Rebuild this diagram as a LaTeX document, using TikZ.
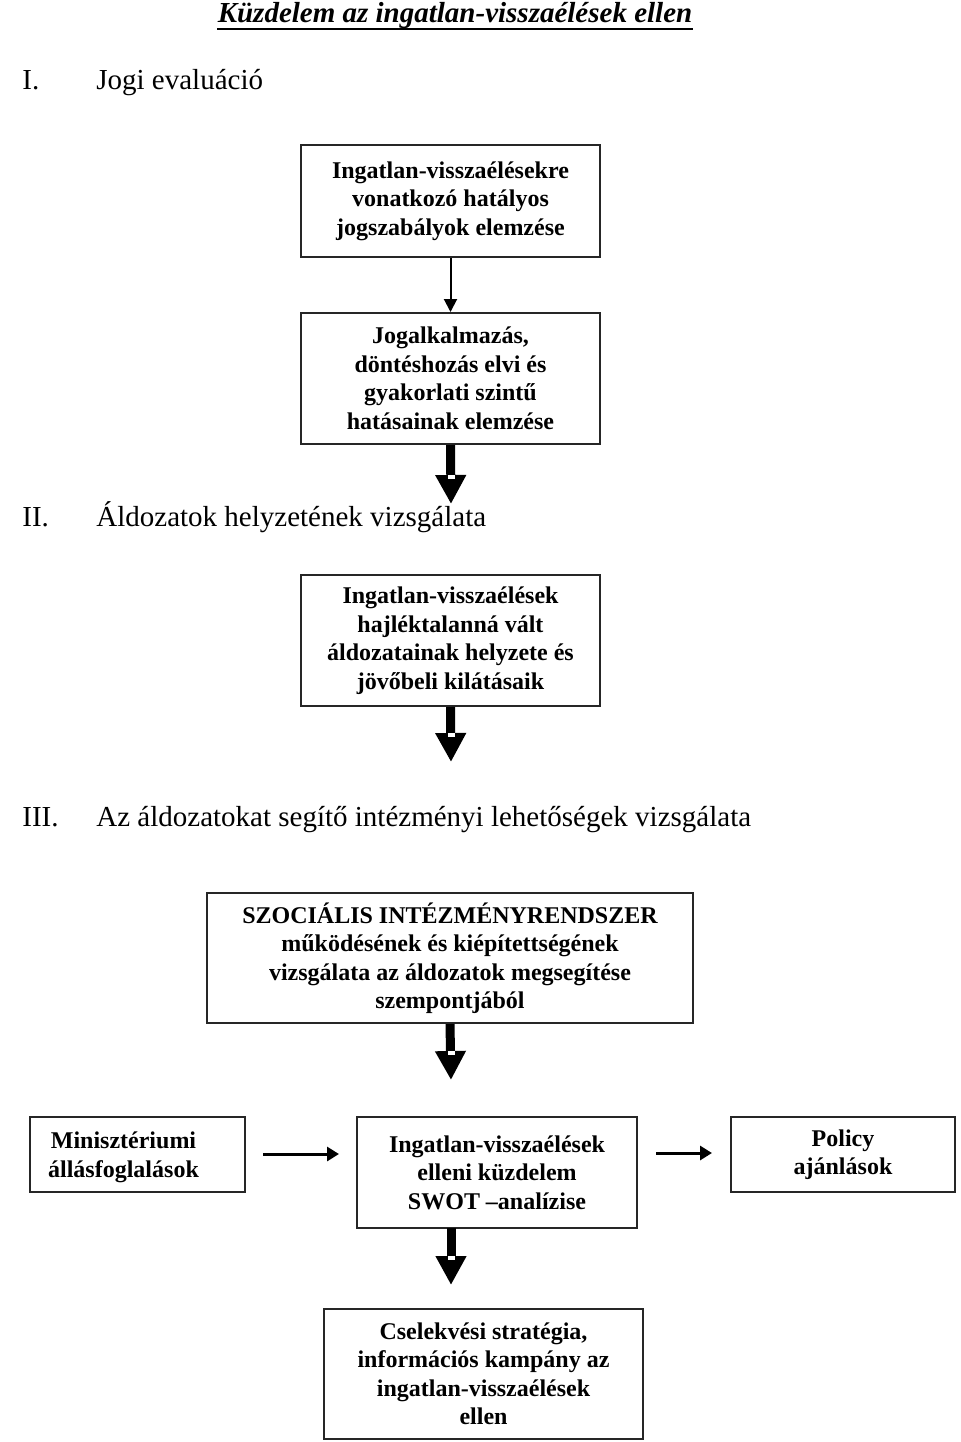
\documentclass[tikz,border=0pt]{standalone}
\usepackage{fontspec}
\setmainfont{Liberation Serif}
\usetikzlibrary{arrows.meta,calc}

\begin{document}
\begin{tikzpicture}[x=0.5pt, y=-0.5pt]
    % Styles
    \tikzstyle{block} = [rectangle, draw=black!85, line width=1pt, inner sep=0pt, align=center, font=\bfseries\fontsize{12}{14.25}\selectfont]
    \tikzstyle{heading} = [anchor=base west, inner sep=0pt, font=\fontsize{14.5}{17}\selectfont]
    \tikzstyle{arrow} = [line width=1pt, -{Triangle[length=6.5pt, width=6.5pt]}]
    \tikzstyle{sidearrow} = [line width=1.5pt, -{Triangle[length=6pt, width=7pt]}]
    \tikzstyle{bigarrow} = [line width=4.5pt, -{Triangle[length=14.5pt, width=14.5pt]}]
    \tikzstyle{notch} = [fill=white]

    \useasboundingbox (0,0) rectangle (960,1442);

    % Title
    \node [anchor=base, inner sep=0pt, font=\bfseries\itshape\fontsize{14.5}{17}\selectfont] (title) at (455,22) {Küzdelem az ingatlan-visszaélések ellen};
    \draw [line width=1pt] ($(title.base west)+(0,7)$) -- ($(title.base east)+(0,7)$);

    % Headings
    \node [heading] (num1) at (22,89) {I.};
    \node [heading] (head1) at (96,89) {Jogi evaluáció};
    \node [heading] (num2) at (22,526) {II.};
    \node [heading] (head2) at (96,526) {Áldozatok helyzetének vizsgálata};
    \node [heading] (num3) at (22,826) {III.};
    \node [heading] (head3) at (96,826) {Az áldozatokat segítő intézményi lehetőségek vizsgálata};

    % Nodes
    \node [block, minimum width=149.5pt, minimum height=56pt] (rules) at (450.5,201) {Ingatlan-visszaélésekre\\vonatkozó hatályos\\jogszabályok elemzése};
    \node [block, minimum width=149.5pt, minimum height=65.5pt] (impact) at (450.5,378.5) {Jogalkalmazás,\\döntéshozás elvi és\\gyakorlati szintű\\hatásainak elemzése};
    \node [block, minimum width=149.5pt, minimum height=65.5pt] (victims) at (450.5,640.5) {Ingatlan-visszaélések\\hajléktalanná vált\\áldozatainak helyzete és\\jövőbeli kilátásaik};
    \node [block, minimum width=243pt, minimum height=65pt] (social) at (450,958) {SZOCIÁLIS INTÉZMÉNYRENDSZER\\működésének és kiépítettségének\\vizsgálata az áldozatok megsegítése\\szempontjából};
    \node [block, minimum width=107.5pt, minimum height=37.5pt,
           label={[font=\bfseries\fontsize{12}{14.25}\selectfont, align=center, xshift=-7pt, yshift=-1.5pt]center:Minisztériumi\\állásfoglalások}] (ministry) at (137.5,1154.5) {};
    \node [block, minimum width=140pt, minimum height=55.5pt] (swot) at (497,1172.5) {Ingatlan-visszaélések\\elleni küzdelem\\SWOT –analízise};
    \node [block, minimum width=112pt, minimum height=37.5pt] (policy) at (843,1154.5) {Policy\\ajánlások};
    \node [block, minimum width=159.5pt, minimum height=65pt] (action) at (483.5,1374) {Cselekvési stratégia,\\információs kampány az\\ingatlan-visszaélések\\ellen};

    % Arrow ends
    \coordinate (a1) at (451,504);
    \coordinate (a2) at (451,762);
    \coordinate (a3) at (451,1080);
    \coordinate (a4s) at (451,1228);
    \coordinate (a4) at (451,1285);
    \coordinate (s1a) at (263,1154);
    \coordinate (s1b) at (339,1154);
    \coordinate (s2a) at (656,1153);
    \coordinate (s2b) at (712,1153);

    % Arrows
    \draw [arrow] (rules.south) -- (impact.north);
    \draw [bigarrow] (impact.south) -- (a1);
    \draw [bigarrow] (victims.south) -- (a2);
    \draw [bigarrow] (social.south) -- (a3);
    \draw [bigarrow] (a4s) -- (a4);
    \draw [sidearrow] (s1a) -- (s1b);
    \draw [sidearrow] (s2a) -- (s2b);

    % Notches
    \fill [notch] ($(a1)+(-3.5,-29)$) rectangle ++(7,4);
    \fill [notch] ($(a2)+(-3.5,-29)$) rectangle ++(7,4);
    \fill [notch] ($(a3)+(-3.5,-29)$) rectangle ++(7,4);
    \fill [notch] ($(a4)+(-3.5,-29)$) rectangle ++(7,4);
\end{tikzpicture}
\end{document}
